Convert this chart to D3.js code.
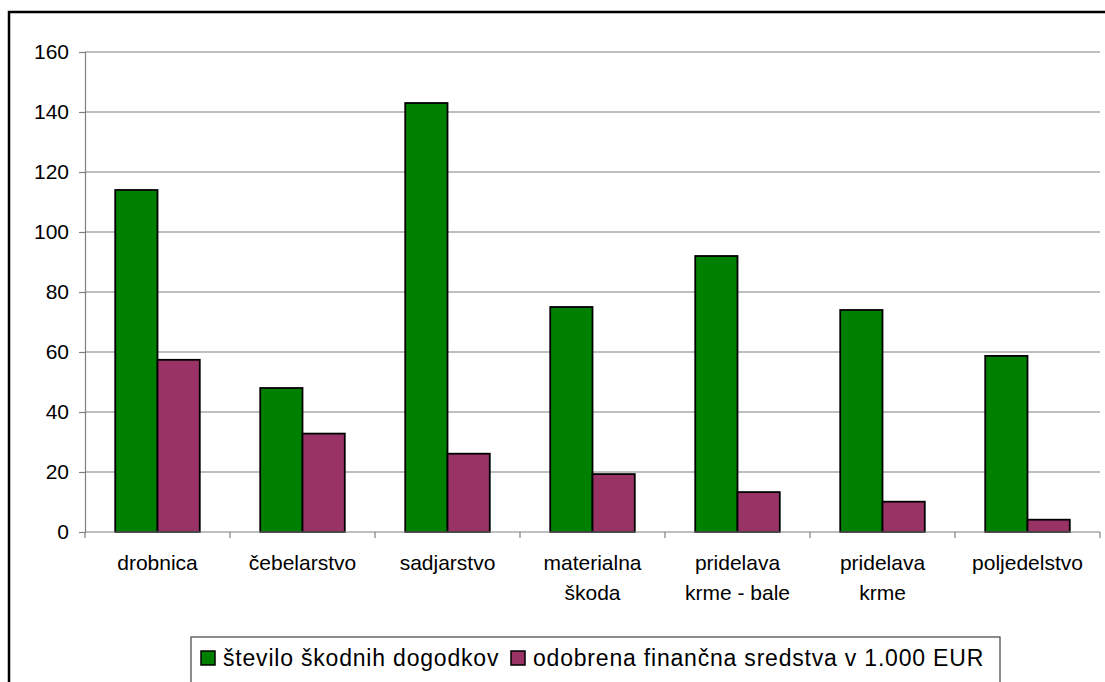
<!DOCTYPE html>
<html>
<head>
<meta charset="utf-8">
<script src="https://cdn.jsdelivr.net/npm/d3@7"></script>
<style>
  html, body { margin: 0; padding: 0; background: #ffffff; }
  svg text { font-family: "Liberation Sans", Arial, sans-serif; fill: #000; }
</style>
</head>
<body>
<svg id="chart" width="1105" height="682"></svg>
<script>
const categories = [
  ["drobnica"],
  ["čebelarstvo"],
  ["sadjarstvo"],
  ["materialna", "škoda"],
  ["pridelava", "krme - bale"],
  ["pridelava", "krme"],
  ["poljedelstvo"]
];
const seriesNames = ["število škodnih dogodkov", "odobrena finančna sredstva v 1.000 EUR"];
const seriesColors = ["#008000", "#993366"];
const steviloDogodkov = [114, 48, 143, 75, 92, 74, 58.7];
const odobrenaSredstva = [57.4, 32.8, 26.1, 19.3, 13.3, 10.1, 4.1];
const yTicks = [0, 20, 40, 60, 80, 100, 120, 140, 160];

(function () {
const seriesValues = [steviloDogodkov, odobrenaSredstva];
const catKeys = categories.map(c => c.join(" "));

const svg = d3.select("#chart");

// outer frame (cropped at right/bottom)
svg.append("rect")
  .attr("x", 9).attr("y", 12).attr("width", 1200).attr("height", 800)
  .attr("fill", "none").attr("stroke", "#000").attr("stroke-width", 2.5);

const pLeft = 85, pRight = 1100, pTop = 52, pBottom = 532;

const y = d3.scaleLinear().domain([0, 160]).range([pBottom, pTop]);
const x0 = d3.scaleBand().domain(catKeys).range([pLeft, pRight]).padding(0);
const x1 = d3.scaleBand().domain([0, 1]).range([0, x0.bandwidth()])
  .paddingInner(0).paddingOuter(0.715);

// gridlines
svg.append("g").selectAll("line").data(yTicks.filter(d => d > 0)).join("line")
  .attr("x1", pLeft).attr("x2", pRight)
  .attr("y1", d => y(d)).attr("y2", d => y(d))
  .attr("stroke", "#808080").attr("stroke-width", 1.2);

// y axis
const yAxis = svg.append("g").attr("transform", `translate(${pLeft},0)`)
  .call(d3.axisLeft(y).tickValues(yTicks).tickSize(6).tickPadding(10).tickFormat(d3.format("d")));
yAxis.select(".domain").attr("stroke", "#808080").attr("stroke-width", 1.2);
yAxis.selectAll(".tick line").attr("stroke", "#808080").attr("stroke-width", 1.2);
yAxis.selectAll("text").attr("font-size", 21).attr("font-family", "Liberation Sans, Arial, sans-serif").attr("fill", "#000");

// bars
const groups = svg.append("g").selectAll("g").data(catKeys).join("g")
  .attr("transform", d => `translate(${x0(d)},0)`);
groups.selectAll("rect").data((d, i) => seriesValues.map((vals, s) => ({ s, v: vals[i] }))).join("rect")
  .attr("x", d => x1(d.s))
  .attr("width", x1.bandwidth())
  .attr("y", d => y(d.v))
  .attr("height", d => y(0) - y(d.v))
  .attr("fill", d => seriesColors[d.s])
  .attr("stroke", "#000").attr("stroke-width", 1.8);

// x axis
const xAxisG = svg.append("g");
xAxisG.append("line").attr("x1", pLeft).attr("x2", pRight).attr("y1", pBottom).attr("y2", pBottom)
  .attr("stroke", "#808080").attr("stroke-width", 1.2);
const bounds = catKeys.map(k => x0(k)).concat([pRight]);
xAxisG.selectAll("line.tk").data(bounds).join("line").attr("class", "tk")
  .attr("x1", d => d).attr("x2", d => d).attr("y1", pBottom).attr("y2", pBottom + 6)
  .attr("stroke", "#808080").attr("stroke-width", 1.2);

// category labels
const lbl = svg.append("g").selectAll("text").data(categories).join("text")
  .attr("text-anchor", "middle").attr("font-size", 21)
  .attr("x", (d, i) => x0(catKeys[i]) + x0.bandwidth() / 2)
  .attr("y", 570);
lbl.selectAll("tspan").data(d => d).join("tspan")
  .attr("x", function () { return d3.select(this.parentNode).attr("x"); })
  .attr("dy", (d, i) => i === 0 ? 0 : 30)
  .text(d => d);

// legend
const lg = svg.append("g");
lg.append("rect").attr("x", 191).attr("y", 637).attr("width", 809).attr("height", 60)
  .attr("fill", "#fff").attr("stroke", "#404040").attr("stroke-width", 1.2);
const legendItems = [{ x: 201, tx: 223 }, { x: 511, tx: 533 }];
legendItems.forEach((it, i) => {
  lg.append("rect").attr("x", it.x).attr("y", 651).attr("width", 14).attr("height", 14)
    .attr("fill", seriesColors[i]).attr("stroke", "#000").attr("stroke-width", 1.5);
  lg.append("text").attr("x", it.tx).attr("y", 666).attr("font-size", 23)
    .attr("letter-spacing", 0.8).text(seriesNames[i]);
});
})();
</script>
</body>
</html>
